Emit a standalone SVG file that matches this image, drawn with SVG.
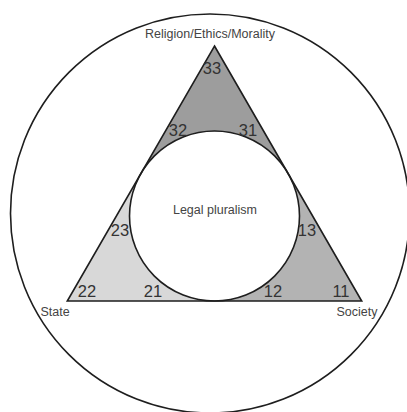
<svg xmlns="http://www.w3.org/2000/svg" width="407" height="412" viewBox="0 0 407 412">
<style>
.ln{fill:none;stroke:#1e1e1e;stroke-width:1.6}
.num{font-family:"Liberation Sans",Arial,sans-serif;font-size:16.5px;fill:#333;text-anchor:middle}
.lbl{font-family:"Liberation Sans",Arial,sans-serif;font-size:12.5px;fill:#444;text-anchor:middle}
</style>
<rect width="407" height="412" fill="#fff"/>
<g id="outer">
<circle class="ln" cx="210" cy="213.5" r="199.5"/>
</g>
<g id="region-top">
<path d="M214.5,46 L288.1,173.5 A85,85 0 0 0 140.9,173.5 Z" fill="#9d9d9d"/>
</g>
<g id="region-left">
<path d="M67.3,301 L140.9,173.5 A85,85 0 0 0 214.5,301 Z" fill="#d8d8d8"/>
</g>
<g id="region-right">
<path d="M361.7,301 L214.5,301 A85,85 0 0 0 288.1,173.5 Z" fill="#b3b3b3"/>
</g>
<g id="triangle">
<path class="ln" d="M214.5,46 L361.7,301 L67.3,301 Z"/>
</g>
<g id="legal-pluralism">
<circle class="ln" cx="214.5" cy="216" r="85" fill="#fff"/>
<text class="lbl" x="215" y="214">Legal pluralism</text>
</g>
<g id="labels">
<text class="lbl" x="210" y="38">Religion/Ethics/Morality</text>
<text class="lbl" x="55" y="316">State</text>
<text class="lbl" x="357" y="316">Society</text>
</g>
<g id="numbers">
<text class="num" x="212" y="74">33</text>
<text class="num" x="178" y="136">32</text>
<text class="num" x="248" y="136">31</text>
<text class="num" x="120" y="236">23</text>
<text class="num" x="307" y="236">13</text>
<text class="num" x="87" y="297">22</text>
<text class="num" x="153" y="297">21</text>
<text class="num" x="273" y="297">12</text>
<text class="num" x="341" y="297">11</text>
</g>
<g id="connectors"></g>
</svg>
